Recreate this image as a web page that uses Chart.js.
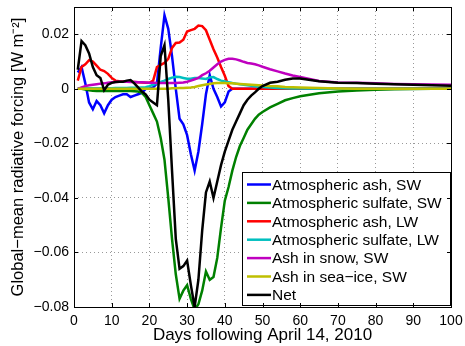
<!DOCTYPE html>
<html>
<head>
<meta charset="utf-8">
<script src="https://cdn.jsdelivr.net/npm/chart.js@4.4.1/dist/chart.umd.min.js"></script>
<style>
    html, body { margin: 0; padding: 0; background: #fff; }
</style>
</head>
<body>
<canvas id="forcing-chart" width="465" height="346"></canvas>
<script>
// days after April 14, 2010 (daily until day 50, coarser after)
const days = [1, 2, 3, 4, 5, 6, 7, 8, 9, 10, 11, 12, 13, 14, 15, 16, 17, 18, 19, 20,
    21, 22, 23, 24, 25, 26, 27, 28, 29, 30, 31, 32, 33, 34, 35, 36, 37, 38, 39, 40,
    41, 42, 43, 44, 45, 46, 47, 48, 49, 50, 52, 54, 56, 58, 60,
    65, 70, 75, 80, 85, 90, 95, 100];

const ashSW = [0.006, 0.008, 0.002, -0.005, -0.0075, -0.0045, -0.006, -0.009, -0.006, -0.004,
    -0.003, -0.0025, -0.002, -0.002, -0.003, -0.0025, -0.002, -0.0015, 0, 0,
    0.0005, 0.002, 0.015, 0.027, 0.022, 0.012, 0, -0.011, -0.013, -0.017,
    -0.024, -0.030, -0.023, -0.013, -0.002, 0.005, 0, -0.003, -0.0065, -0.005,
    -0.001, 0, 0, 0, 0, 0, 0, 0, 0, 0,
    0, 0, 0, 0, 0,
    0, 0, 0, 0, 0, 0, 0, 0];

const sulfateSW = [0, 0, -0.0003, -0.0005, -0.0007, -0.0008, -0.0008, -0.0008, -0.0008, -0.0008,
    -0.0008, -0.0008, -0.0008, -0.0008, -0.0008, -0.0009, -0.001, -0.0015, -0.003, -0.006,
    -0.009, -0.012, -0.018, -0.026, -0.040, -0.055, -0.068, -0.077, -0.074, -0.072,
    -0.077, -0.081, -0.079, -0.074, -0.067, -0.070, -0.069, -0.062, -0.051, -0.041,
    -0.036, -0.030, -0.025, -0.021, -0.018, -0.015, -0.013, -0.011, -0.0095, -0.0085,
    -0.0068, -0.0055, -0.0042, -0.0034, -0.0027,
    -0.0016, -0.001, -0.0006, -0.0003, -0.0002, -0.0001, 0, 0];

const ashLW = [0.003, 0.008, 0.009, 0.0105, 0.010, 0.0085, 0.007, 0.0065, 0.0055, 0.004,
    0.003, 0.0028, 0.0027, 0.0026, 0.0026, 0.0025, 0.0024, 0.0023, 0.0022, 0.0022,
    0.003, 0.008, 0.0088, 0.0095, 0.011, 0.015, 0.0168, 0.017, 0.018, 0.021,
    0.0215, 0.022, 0.0232, 0.023, 0.0215, 0.018, 0.0145, 0.0115, 0.008, 0.0048,
    0.001, 0, 0, 0, 0, 0, 0, 0, 0, 0,
    0, 0, 0, 0, 0,
    0, 0, 0, 0, 0, 0, 0, 0];

const sulfateLW = [0.0002, 0.0002, 0.0002, 0.0002, 0.0002, 0.0002, 0.0002, 0.0002, 0.0002, 0.0002,
    0.0003, 0.0003, 0.0003, 0.0003, 0.0004, 0.0004, 0.0004, 0.0005, 0.0006, 0.001,
    0.0015, 0.002, 0.0025, 0.003, 0.0036, 0.0041, 0.0044, 0.0043, 0.004, 0.0037,
    0.0037, 0.004, 0.004, 0.0038, 0.0036, 0.0042, 0.0043, 0.0036, 0.003, 0.0027,
    0.0024, 0.0021, 0.0019, 0.0017, 0.0015, 0.0013, 0.0011, 0.0009, 0.0008, 0.0007,
    0.0005, 0.0003, 0.0002, 0.0001, 0.0001,
    0, 0, 0, 0, 0, 0, 0, 0];

const snowSW = [0, 0.0005, 0.001, 0.0013, 0.0015, 0.0017, 0.0019, 0.002, 0.0022, 0.0024,
    0.0025, 0.0026, 0.0026, 0.0026, 0.0025, 0.0025, 0.0024, 0.0024, 0.0023, 0.0022,
    0.0022, 0.0021, 0.0021, 0.0021, 0.0021, 0.0021, 0.0021, 0.0022, 0.0023, 0.0026,
    0.003, 0.0035, 0.004, 0.005, 0.0057, 0.0066, 0.0078, 0.009, 0.010, 0.0106,
    0.011, 0.011, 0.0108, 0.0104, 0.0099, 0.0095, 0.0093, 0.009, 0.0086, 0.0081,
    0.0072, 0.0064, 0.0056, 0.0049, 0.0043,
    0.0029, 0.0023, 0.0022, 0.002, 0.0018, 0.0017, 0.0016, 0.0015];

const seaIceSW = [0, 0, 0, 0, 0, 0, 0, 0, 0, 0,
    0, 0, 0, 0, 0, 0, 0, 0, 0, 0,
    0, 0, 0, 0, 0, 0.0002, 0.0002, 0.0003, 0.0003, 0.0004,
    0.0005, 0.0007, 0.001, 0.0013, 0.0016, 0.0018, 0.002, 0.0021, 0.0021, 0.0021,
    0.002, 0.002, 0.0019, 0.0018, 0.0017, 0.0016, 0.0015, 0.0014, 0.0013, 0.0012,
    0.001, 0.0009, 0.0007, 0.0006, 0.0005,
    0.0003, 0.0001, 0, 0, 0, 0, 0, 0];

const net = [0.007, 0.0175, 0.016, 0.013, 0.008, 0.005, 0.004, -0.0005, 0.0015, 0.0022,
    0.0025, 0.0026, 0.0026, 0.003, 0.0032, 0.002, 0.0005, -0.001, -0.002, -0.004,
    -0.005, -0.006, 0.012, 0.016, -0.004, -0.030, -0.055, -0.066, -0.065, -0.063,
    -0.072, -0.080, -0.070, -0.052, -0.038, -0.034, -0.040, -0.034, -0.028, -0.023,
    -0.019, -0.015, -0.012, -0.009, -0.006, -0.004, -0.0025, -0.0013, 0, 0.001,
    0.0022, 0.0026, 0.0033, 0.0038, 0.0038,
    0.0028, 0.0022, 0.0021, 0.0019, 0.0017, 0.0015, 0.0013, 0.0011];

const seriesNames = ['Atmospheric ash, SW', 'Atmospheric sulfate, SW', 'Atmospheric ash, LW',
    'Atmospheric sulfate, LW', 'Ash in snow, SW', 'Ash in sea\u2212ice, SW', 'Net'];
const seriesValues = [ashSW, sulfateSW, ashLW, sulfateLW, snowSW, seaIceSW, net];
const seriesColors = ['#0000ff', '#008000', '#ff0000', '#00bfbf', '#bf00bf', '#bfbf00', '#000000'];

const xTicks = [0, 10, 20, 30, 40, 50, 60, 70, 80, 90, 100];
const yTicks = [-0.08, -0.06, -0.04, -0.02, 0, 0.02];

const FONT = '"Liberation Sans", Arial, Helvetica, sans-serif';

// MATLAB 스타일: 박스 + 안쪽 눈금 + 범례
const matlabFrame = {
    id: 'matlabFrame',
    afterDatasetsDraw(chart) {
        const { ctx, chartArea: a, scales } = chart;
        ctx.save();

        // legend
        const lw = 208, lh = 133;
        const lx = a.right - 1 - lw, ly = a.bottom - 2 - lh;
        ctx.fillStyle = '#fff';
        ctx.fillRect(lx, ly, lw, lh);
        ctx.strokeStyle = '#000';
        ctx.lineWidth = 1;
        ctx.strokeRect(lx + 0.5, ly + 0.5, lw, lh);
        ctx.font = '15.5px ' + FONT;
        ctx.textBaseline = 'middle';
        ctx.textAlign = 'left';
        chart.data.datasets.forEach((ds, i) => {
            const y = ly + 12.5 + i * 18.4;
            ctx.strokeStyle = ds.borderColor;
            ctx.lineWidth = 2.5;
            ctx.beginPath();
            ctx.moveTo(lx + 5, y);
            ctx.lineTo(lx + 29, y);
            ctx.stroke();
            ctx.fillStyle = '#000';
            ctx.fillText(ds.label, lx + 30, y + 1);
        });

        // box and inward ticks
        ctx.strokeStyle = '#000';
        ctx.lineWidth = 1;
        ctx.strokeRect(a.left + 0.5, a.top + 0.5, a.right - a.left, a.bottom - a.top);
        const tl = 4;
        ctx.beginPath();
        scales.x.ticks.forEach(t => {
            const px = Math.round(scales.x.getPixelForValue(t.value)) + 0.5;
            ctx.moveTo(px, a.bottom); ctx.lineTo(px, a.bottom - tl);
            ctx.moveTo(px, a.top); ctx.lineTo(px, a.top + tl);
        });
        scales.y.ticks.forEach(t => {
            const py = Math.round(scales.y.getPixelForValue(t.value)) + 0.5;
            ctx.moveTo(a.left, py); ctx.lineTo(a.left + tl, py);
            ctx.moveTo(a.right, py); ctx.lineTo(a.right - tl, py);
        });
        ctx.stroke();
        ctx.restore();
    }
};

const gridStyle = { color: 'rgba(0,0,0,0.4)', lineWidth: 1, drawTicks: false };

new Chart(document.getElementById('forcing-chart'), {
    type: 'line',
    data: {
        datasets: seriesNames.map((name, i) => ({
            label: name,
            data: days.map((d, j) => ({ x: d, y: seriesValues[i][j] })),
            borderColor: seriesColors[i],
            backgroundColor: seriesColors[i],
            borderWidth: 2.5,
            pointRadius: 0,
            tension: 0,
            fill: false,
            order: seriesNames.length - i
        }))
    },
    options: {
        responsive: false,
        animation: false,
        layout: { padding: { top: 7, right: 14, bottom: 0, left: 0 } },
        plugins: {
            legend: { display: false },
            tooltip: { enabled: false }
        },
        scales: {
            x: {
                type: 'linear',
                min: 0,
                max: 100,
                afterBuildTicks: s => { s.ticks = xTicks.map(v => ({ value: v })); },
                afterFit: s => {
                    s.height = 39;
                    s.paddingLeft = 0;
                    s.paddingRight = 0;
                },
                ticks: {
                    color: '#000',
                    padding: 6,
                    maxRotation: 0,
                    autoSkip: false,
                    font: { family: FONT, size: 14 }
                },
                grid: gridStyle,
                border: { display: false, dash: [1, 3] },
                title: {
                    display: true,
                    text: 'Days following April 14, 2010',
                    color: '#000',
                    font: { family: FONT, size: 17 },
                    padding: { top: 0, bottom: 0 }
                }
            },
            y: {
                min: -0.08,
                max: 0.03,
                afterBuildTicks: s => { s.ticks = yTicks.map(v => ({ value: v })); },
                afterFit: s => {
                    s.width = 74;
                    s.paddingTop = 0;
                    s.paddingBottom = 0;
                },
                ticks: {
                    color: '#000',
                    padding: 5,
                    autoSkip: false,
                    font: { family: FONT, size: 14 },
                    callback: v => v === 0 ? '0' : (v < 0 ? '\u2212' + Math.abs(v).toFixed(2) : v.toFixed(2))
                },
                grid: gridStyle,
                border: { display: false, dash: [1, 3] },
                title: {
                    display: true,
                    text: 'Global\u2212mean radiative forcing [W m\u207B\u00B2]',
                    color: '#000',
                    font: { family: FONT, size: 16.5 },
                    padding: { top: 9, bottom: 0 }
                }
            }
        }
    },
    plugins: [matlabFrame]
});
</script>
</body>
</html>
